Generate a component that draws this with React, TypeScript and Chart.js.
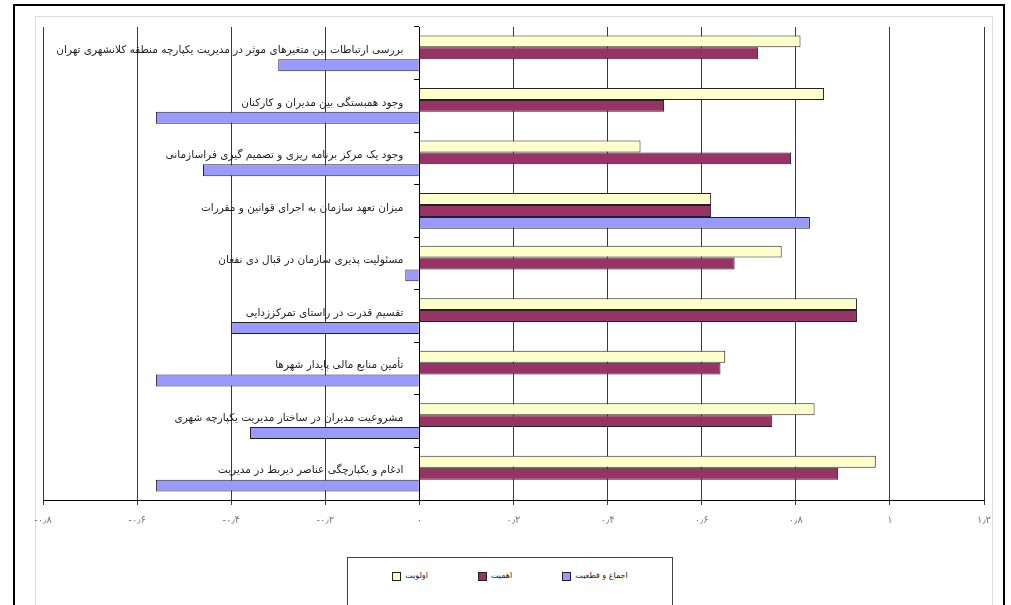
import { useEffect, useRef } from 'react';
import { Chart, registerables } from 'chart.js';

Chart.register(...registerables);

const categories = [
  'بررسی ارتباطات بین متغیرهای موثر در مدیریت یکپارچه منطقه کلانشهری تهران',
  'وجود همبستگی بین مدیران و کارکنان',
  'وجود یک مرکز برنامه ریزی و تصمیم گیری فراسازمانی',
  'میزان تعهد سازمان به اجرای قوانین و مقررات',
  'مسئولیت پذیری سازمان در قبال ذی نفعان',
  'تقسیم قدرت در راستای تمرکززدایی',
  'تأمین منابع مالی پایدار شهرها',
  'مشروعیت مدیران در ساختار مدیریت یکپارچه شهری',
  'ادغام و یکپارچگی عناصر ذیربط در مدیریت',
];

const seriesNames = ['اولویت', 'اهمیت', 'اجماع و قطعیت'];
const seriesColors = ['#FFFFCC', '#993366', '#9999FF'];
const priorityValues = [0.81, 0.86, 0.47, 0.62, 0.77, 0.93, 0.65, 0.84, 0.97];
const importanceValues = [0.72, 0.52, 0.79, 0.62, 0.67, 0.93, 0.64, 0.75, 0.89];
const consensusValues = [-0.3, -0.56, -0.46, 0.83, -0.03, -0.4, -0.56, -0.36, -0.56];

const xTickValues = [-0.8, -0.6, -0.4, -0.2, 0, 0.2, 0.4, 0.6, 0.8, 1, 1.2];
const xTickLabels = ['-۰٫۸', '-۰٫۶', '-۰٫۴', '-۰٫۲', '۰', '۰٫۲', '۰٫۴', '۰٫۶', '۰٫۸', '۱', '۱٫۲'];

const FONT = "'DejaVu Sans', sans-serif";

export default function App() {
  const ref = useRef<HTMLCanvasElement>(null);

  useEffect(() => {
    document.body.style.margin = '0';
    document.body.style.overflow = 'hidden';

    const framePlugin = {
      id: 'frames',
      beforeDraw(chart: any) {
        const ctx = chart.ctx;
        ctx.save();
        ctx.fillStyle = '#ffffff';
        ctx.fillRect(0, 0, chart.width, chart.height);
        ctx.strokeStyle = '#dcdcdc';
        ctx.lineWidth = 1;
        ctx.strokeRect(35.5, 16.5, 957, 800);
        ctx.strokeStyle = '#000000';
        ctx.lineWidth = 2;
        ctx.strokeRect(14, 5, 990, 800);
        ctx.restore();
      },
      afterDraw(chart: any) {
        const ctx = chart.ctx;
        const xs = chart.scales.x;
        const ys = chart.scales.y;
        ctx.save();
        ctx.font = `10.5px ${FONT}`;
        ctx.fillStyle = '#1e1e1e';
        ctx.textAlign = 'right';
        ctx.textBaseline = 'middle';
        const x0 = xs.getPixelForValue(0);
        categories.forEach((c, i) => {
          ctx.fillText(c, x0 - 16, ys.getPixelForValue(i) - 3);
        });
        ctx.restore();
      },
    };

    const chart = new Chart(ref.current!, {
      type: 'bar',
      data: {
        labels: categories,
        datasets: [priorityValues, importanceValues, consensusValues].map((d, i) => ({
          label: seriesNames[i],
          data: d,
          backgroundColor: seriesColors[i],
          borderColor: '#222',
          borderWidth: 1,
        })),
      },
      options: {
        indexAxis: 'y',
        animation: false,
        responsive: true,
        maintainAspectRatio: false,
        layout: { padding: { left: 43, right: 27, top: 27, bottom: 70 } },
        datasets: {
          bar: { categoryPercentage: 0.68, barPercentage: 1 },
        },
        scales: {
          x: {
            type: 'linear',
            min: -0.8,
            max: 1.2,
            ticks: {
              stepSize: 0.2,
              color: '#7a7a7a',
              font: { size: 10, family: FONT },
              padding: 9,
              callback: (value: any) => {
                const i = xTickValues.findIndex((v) => Math.abs(v - Number(value)) < 1e-6);
                return i >= 0 ? xTickLabels[i] : '';
              },
            },
            grid: { color: '#3a3a3a', lineWidth: 1, tickLength: 5, drawTicks: true },
            border: { color: '#000', width: 1 },
          },
          y: {
            type: 'category',
            position: { x: 0 } as any,
            ticks: { display: false },
            grid: { drawOnChartArea: false, drawTicks: true, tickLength: 5, color: '#000', offset: true },
            border: { display: true, color: '#000', width: 1 },
          },
        },
        plugins: {
          legend: { display: false },
          tooltip: { enabled: false },
        },
      },
      plugins: [framePlugin],
    });
    return () => chart.destroy();
  }, []);

  return (
    <div style={{ width: 1011, height: 605, position: 'relative', overflow: 'hidden' }}>
      <canvas ref={ref} />
      <div
        style={{
          position: 'absolute',
          left: 347,
          top: 557,
          width: 326,
          height: 80,
          border: '1px solid #444',
          background: '#fff',
          display: 'flex',
          justifyContent: 'center',
          alignItems: 'flex-start',
          paddingTop: 11,
          boxSizing: 'border-box',
          gap: 50,
          fontFamily: FONT,
          fontSize: 8,
          color: '#222',
        }}
      >
        {seriesNames.map((n, i) => (
          <div key={n} style={{ display: 'flex', alignItems: 'center', whiteSpace: 'nowrap' }}>
            <span
              style={{
                display: 'inline-block',
                width: 7,
                height: 7,
                border: '1px solid #222',
                background: seriesColors[i],
                marginRight: 4,
                marginTop: 3,
              }}
            />
            <span>{n}</span>
          </div>
        ))}
      </div>
    </div>
  );
}
